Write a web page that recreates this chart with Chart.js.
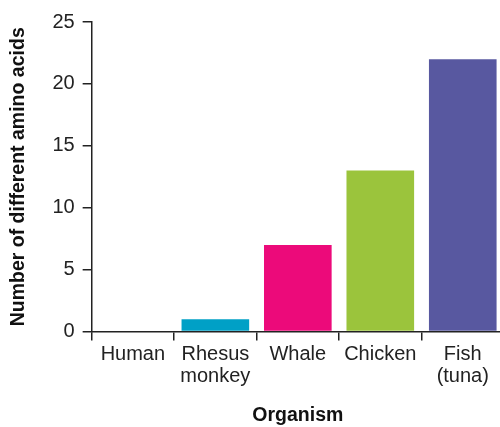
<!DOCTYPE html>
<html>
<head>
<meta charset="utf-8">
<script src="https://cdn.jsdelivr.net/npm/chart.js@4"></script>
<style>
  html, body { margin: 0; padding: 0; background: #fff; overflow: hidden; }
  #wrap { width: 504px; height: 427px; }
</style>
</head>
<body>
<div id="wrap"><canvas id="chart" width="504" height="427"></canvas></div>
<script>
const organisms = ['Human', ['Rhesus', 'monkey'], 'Whale', 'Chicken', ['Fish', '(tuna)']];
const aminoDiffs = [0, 1, 7, 13, 22];
const barColors = ['#00a0c6', '#00a0c6', '#ec0a7a', '#9bc43c', '#5858a0'];

const axisFont = { family: 'Liberation Sans, Arial, sans-serif', size: 20, lineHeight: 1.1 };
const titleFont = { family: 'Liberation Sans, Arial, sans-serif', size: 19.5, weight: 'bold' };

const data = {
  labels: organisms,
  datasets: [{
    label: 'Number of different amino acids',
    data: aminoDiffs,
    backgroundColor: barColors,
    borderWidth: 0,
    categoryPercentage: 1,
    barPercentage: 0.82
  }]
};

const config = {
  type: 'bar',
  data: data,
  options: {
    responsive: false,
    animation: false,
    layout: {
      padding: { top: 22, left: 7, right: 0, bottom: 0 }
    },
    plugins: {
      legend: { display: false },
      tooltip: { enabled: false }
    },
    scales: {
      x: {
        grid: {
          drawOnChartArea: false,
          color: '#222',
          lineWidth: 1.5,
          tickLength: 9
        },
        border: { color: '#222', width: 1.5 },
        ticks: {
          color: '#222',
          font: axisFont,
          padding: 3,
          maxRotation: 0,
          autoSkip: false
        },
        title: {
          display: true,
          text: 'Organism',
          color: '#111',
          font: titleFont,
          padding: { top: 13, bottom: 0 }
        }
      },
      y: {
        min: 0,
        max: 25,
        grid: {
          drawOnChartArea: false,
          color: '#222',
          lineWidth: 1.5,
          tickLength: 9
        },
        border: { color: '#222', width: 1.5 },
        ticks: {
          stepSize: 5,
          color: '#222',
          font: axisFont,
          padding: 8
        },
        title: {
          display: true,
          text: 'Number of different amino acids',
          color: '#111',
          font: titleFont,
          padding: { top: 0, bottom: 14 }
        }
      }
    }
  }
};

const chart = new Chart(document.getElementById('chart'), config);
</script>
</body>
</html>
